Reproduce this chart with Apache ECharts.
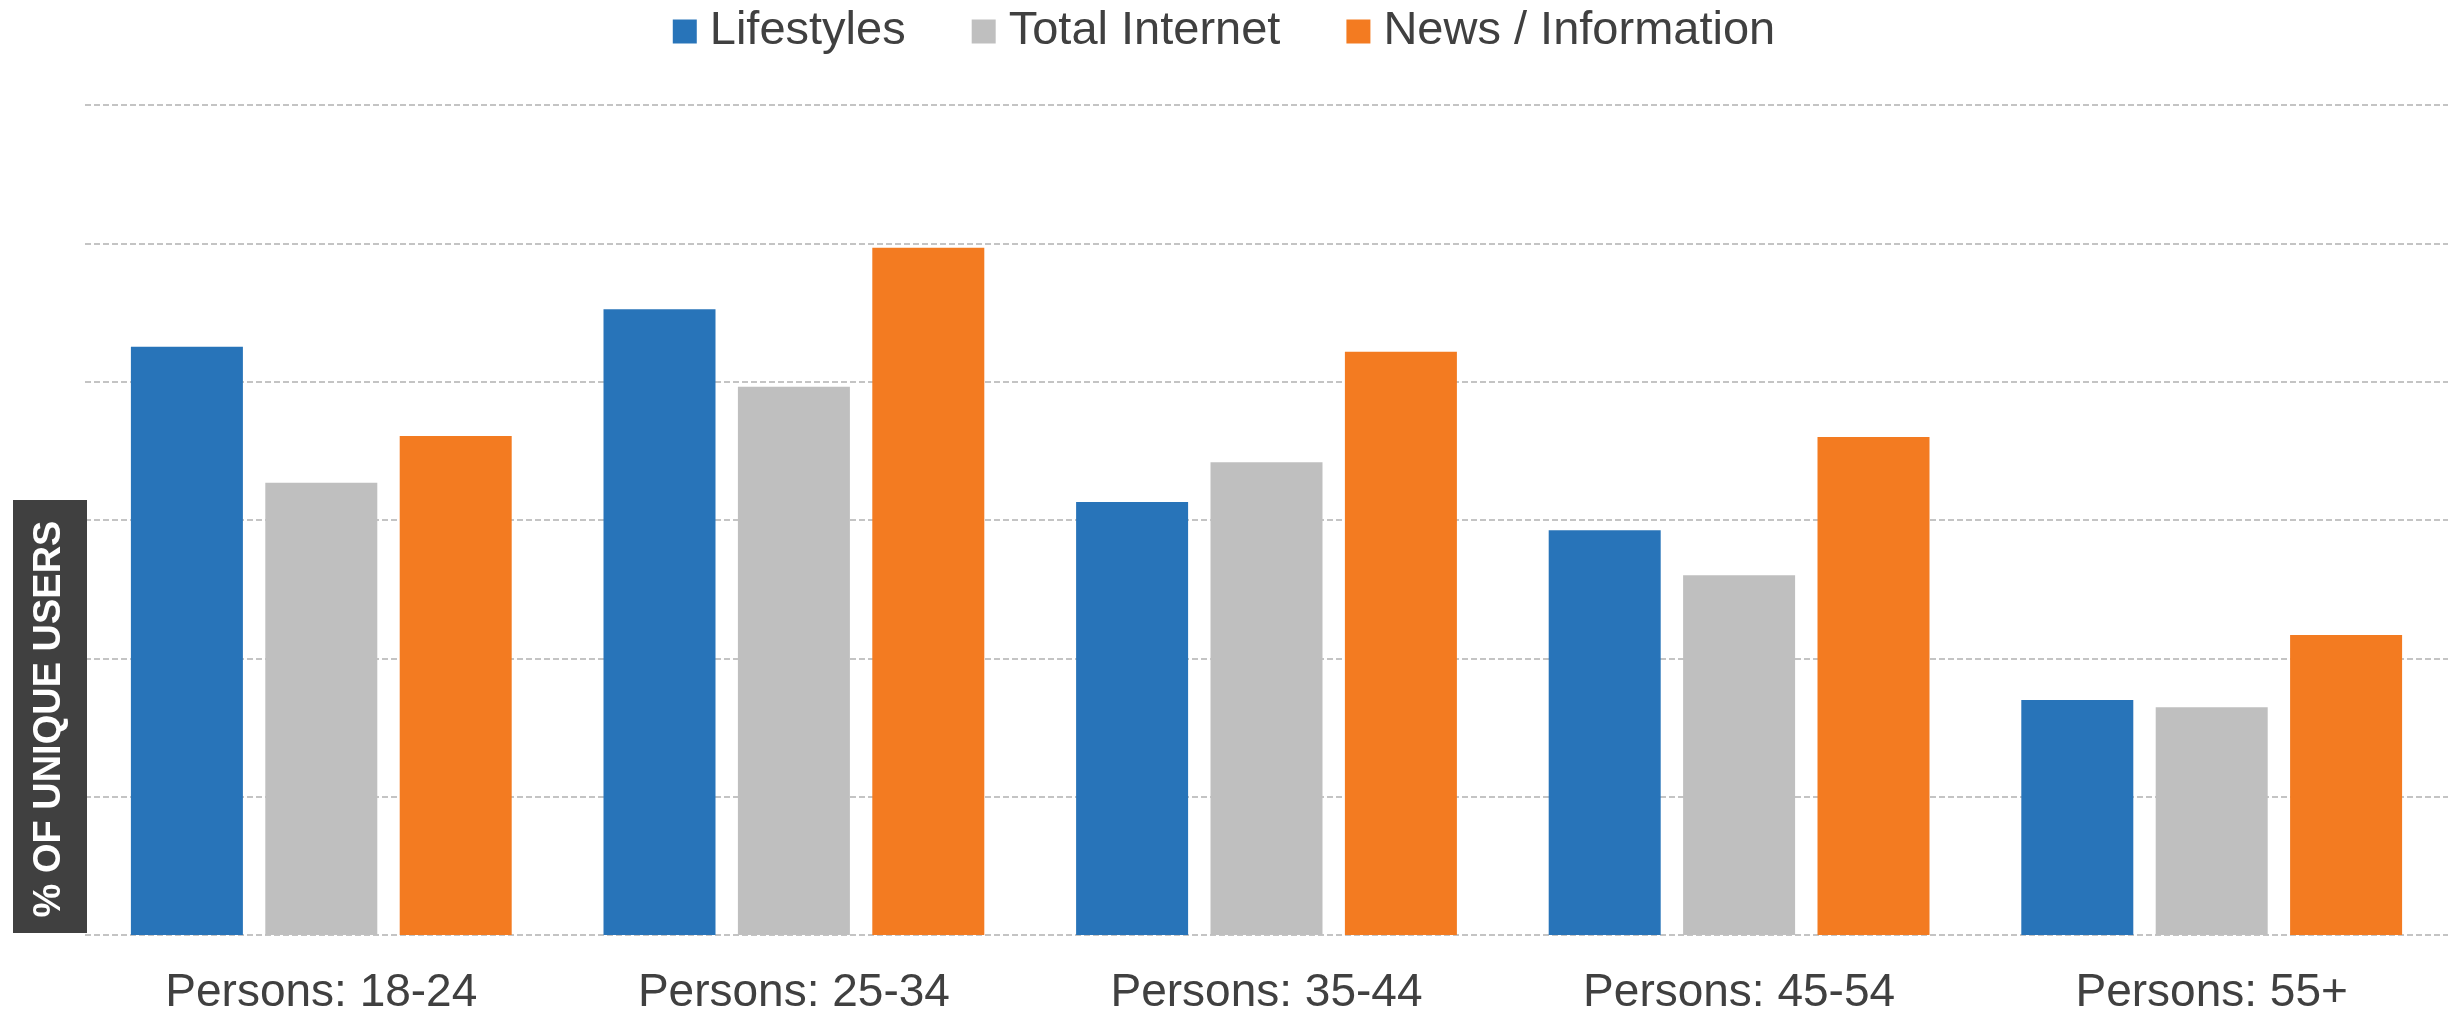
<!DOCTYPE html>
<html>
<head>
<meta charset="utf-8">
<script src="https://cdn.jsdelivr.net/npm/echarts@6/dist/echarts.min.js"></script>
<style>
html,body{margin:0;padding:0;background:#fff;}
#c{width:2448px;height:1015px;}
</style>
</head>
<body>
<div id="c"></div>
<script>
const categories = ['Persons: 18-24','Persons: 25-34','Persons: 35-44','Persons: 45-54','Persons: 55+'];
const lifestyles = [21.26, 22.62, 15.65, 14.63, 8.49];
const totalInternet = [16.35, 19.82, 17.09, 13.0, 8.23];
const newsInformation = [18.04, 24.84, 21.08, 18.0, 10.84];
const seriesNames = ['Lifestyles','Total Internet','News / Information'];
const yTitle = '% OF UNIQUE USERS';

const colors = ['#2874B9','#BFBFBF','#F37B21'];
const chart = echarts.init(document.getElementById('c'), null, {renderer:'canvas'});
const font = 'Liberation Sans, Arial, sans-serif';
chart.setOption({
  animation:false,
  color:colors,
  legend:{
    top:3, left:'center',
    itemWidth:24, itemHeight:24, itemGap:66,
    icon:'rect',
    textStyle:{fontSize:47, color:'#404040', fontFamily:font, padding:[0,0,0,8]},
    data:seriesNames
  },
  grid:{left:85, right:0, top:105, bottom:80, containLabel:false, outerBoundsMode:'none'},
  xAxis:{
    type:'category', data:categories,
    axisLine:{show:false}, axisTick:{show:false},
    axisLabel:{fontSize:46, color:'#404040', fontFamily:font, margin:35}
  },
  yAxis:{
    type:'value', min:0, max:30, interval:5,
    axisLabel:{show:false}, axisLine:{show:false}, axisTick:{show:false},
    splitLine:{show:true, lineStyle:{color:'#C4C4C4', width:2, type:[6,3]}}
  },
  series:[
    {name:seriesNames[0], type:'bar', data:lifestyles, barWidth:112, barGap:'20%'},
    {name:seriesNames[1], type:'bar', data:totalInternet, barWidth:112, barGap:'20%'},
    {name:seriesNames[2], type:'bar', data:newsInformation, barWidth:112, barGap:'20%'}
  ],
  graphic:[
    {type:'rect', left:13, top:500, shape:{width:74, height:433}, style:{fill:'#404040'}, z:10},
    {type:'text', x:50, y:719, rotation:Math.PI/2, z:11,
     style:{text:yTitle, fill:'#ffffff', fontSize:38, fontWeight:'bold', fontFamily:font, textAlign:'center', textVerticalAlign:'middle'}}
  ]
});
</script>
</body>
</html>
